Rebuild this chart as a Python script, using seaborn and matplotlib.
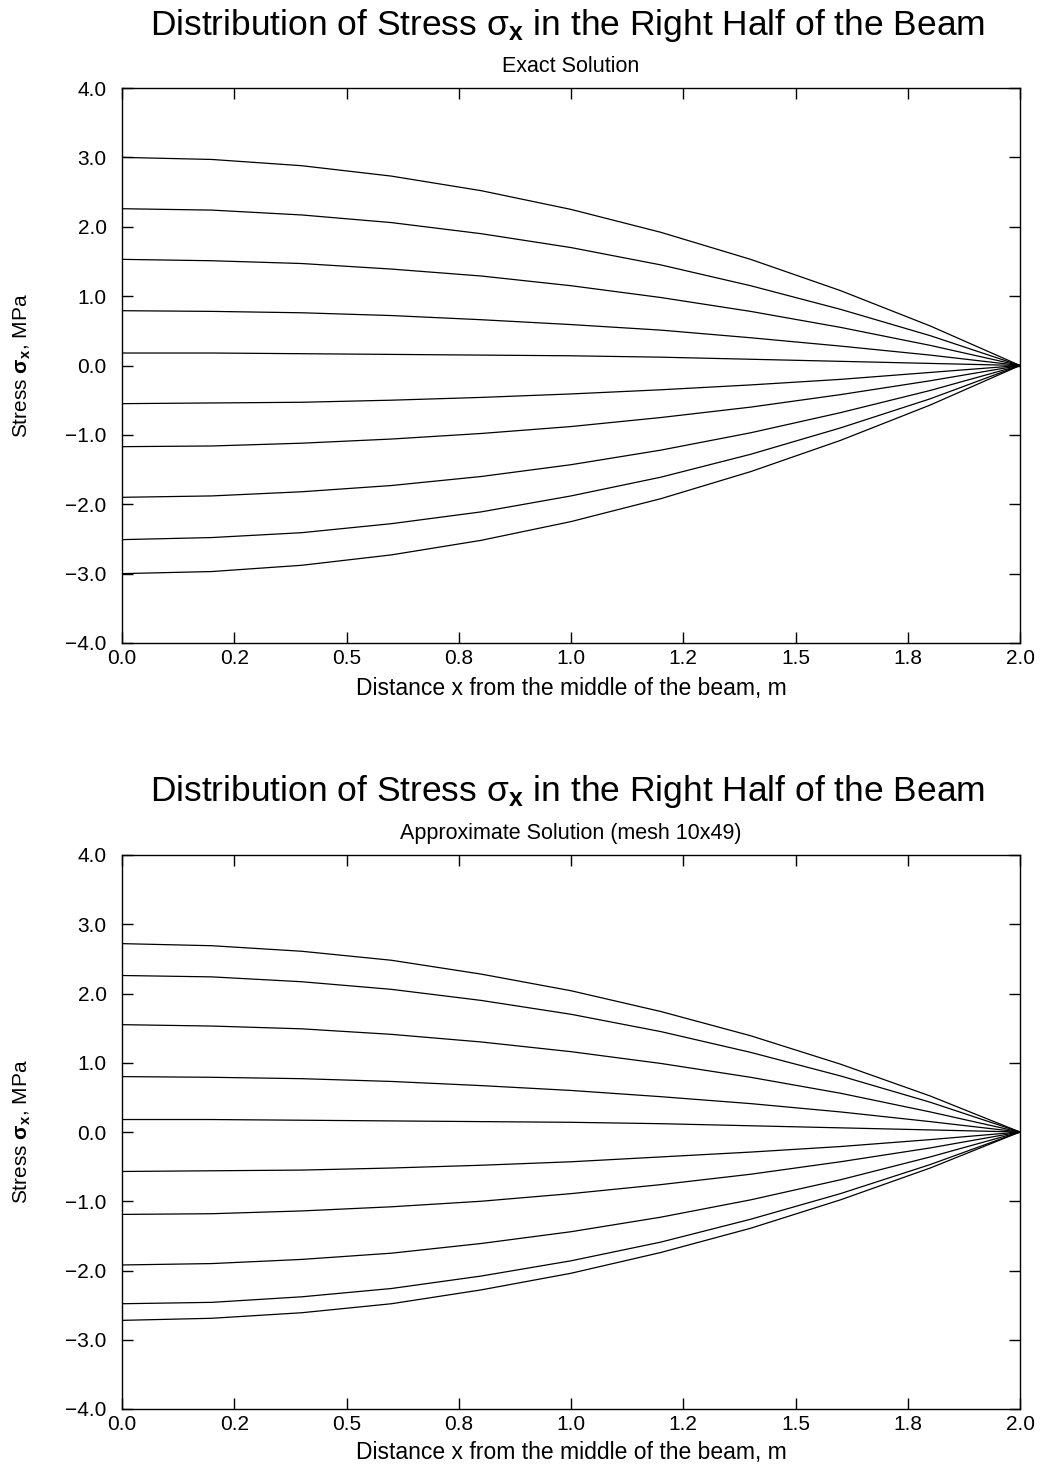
import matplotlib
matplotlib.use("Agg")
import matplotlib.pyplot as plt
from matplotlib.ticker import FuncFormatter, MultipleLocator
import seaborn as sns
import pandas as pd

# ---------------- data ----------------
x_nodes = [0.0, 0.2, 0.4, 0.6, 0.8, 1.0, 1.2, 1.4, 1.6, 1.8, 2.0]

exact_curves = [
    [3.00, 2.97, 2.88, 2.73, 2.52, 2.25, 1.92, 1.53, 1.08, 0.57, 0.0],
    [2.26, 2.24, 2.17, 2.06, 1.90, 1.70, 1.45, 1.15, 0.81, 0.43, 0.0],
    [1.53, 1.51, 1.47, 1.39, 1.29, 1.15, 0.98, 0.78, 0.55, 0.29, 0.0],
    [0.79, 0.78, 0.76, 0.72, 0.66, 0.59, 0.51, 0.40, 0.28, 0.15, 0.0],
    [0.18, 0.18, 0.17, 0.16, 0.15, 0.14, 0.12, 0.09, 0.06, 0.03, 0.0],
    [-0.55, -0.54, -0.53, -0.50, -0.46, -0.41, -0.35, -0.28, -0.20, -0.10, 0.0],
    [-1.17, -1.16, -1.12, -1.06, -0.98, -0.88, -0.75, -0.60, -0.42, -0.22, 0.0],
    [-1.90, -1.88, -1.82, -1.73, -1.60, -1.43, -1.22, -0.97, -0.68, -0.36, 0.0],
    [-2.51, -2.48, -2.41, -2.28, -2.11, -1.88, -1.61, -1.28, -0.90, -0.48, 0.0],
    [-3.00, -2.97, -2.88, -2.73, -2.52, -2.25, -1.92, -1.53, -1.08, -0.57, 0.0],
]

approx_curves = [
    [2.72, 2.69, 2.61, 2.48, 2.28, 2.04, 1.74, 1.39, 0.98, 0.52, 0.0],
    [2.26, 2.24, 2.17, 2.06, 1.90, 1.70, 1.45, 1.15, 0.81, 0.43, 0.0],
    [1.55, 1.53, 1.49, 1.41, 1.30, 1.16, 0.99, 0.79, 0.56, 0.29, 0.0],
    [0.80, 0.79, 0.77, 0.73, 0.67, 0.60, 0.51, 0.41, 0.29, 0.15, 0.0],
    [0.18, 0.18, 0.17, 0.16, 0.15, 0.14, 0.12, 0.09, 0.06, 0.03, 0.0],
    [-0.57, -0.56, -0.55, -0.52, -0.48, -0.43, -0.36, -0.29, -0.21, -0.11, 0.0],
    [-1.19, -1.18, -1.14, -1.08, -1.00, -0.89, -0.76, -0.61, -0.43, -0.23, 0.0],
    [-1.92, -1.90, -1.84, -1.75, -1.61, -1.44, -1.23, -0.98, -0.69, -0.36, 0.0],
    [-2.48, -2.46, -2.38, -2.26, -2.08, -1.86, -1.59, -1.26, -0.89, -0.47, 0.0],
    [-2.72, -2.69, -2.61, -2.48, -2.28, -2.04, -1.74, -1.39, -0.98, -0.52, 0.0],
]

main_title = r"Distribution of Stress σ$_{\mathbf{x}}$ in the Right Half of the Beam"
subtitles = ["Exact Solution", "Approximate Solution (mesh 10x49)"]
x_label = "Distance x from the middle of the beam, m"
y_label = r"Stress $\mathbf{σ_x}$, MPa"

# ---------------- style ----------------
sns.set_theme(style="white")
plt.rcParams["font.family"] = ["Liberation Sans", "DejaVu Sans"]
plt.rcParams["mathtext.fontset"] = "custom"
plt.rcParams["mathtext.rm"] = "Liberation Sans"
plt.rcParams["mathtext.bf"] = "Liberation Sans:bold"
plt.rcParams["mathtext.it"] = "Liberation Sans:italic"

W, H = 1042, 1465
fig = plt.figure(figsize=(W / 100, H / 100), dpi=100)

fmt = FuncFormatter(lambda v, pos: ("%.1f" % v).replace("-", "\u2212"))


def to_long(curves):
    rows = []
    for i, c in enumerate(curves):
        for xv, yv in zip(x_nodes, c):
            rows.append({"x": xv, "stress": yv, "curve": i})
    return pd.DataFrame(rows)


panels = [
    dict(curves=exact_curves, sub=subtitles[0], top=88, bottom=643, title_y=25, sub_y=67, xl_y=688),
    dict(curves=approx_curves, sub=subtitles[1], top=855, bottom=1409, title_y=792, sub_y=834, xl_y=1452),
]

left_px, right_px = 122, 1020
for p in panels:
    ax = fig.add_axes([left_px / W, 1 - p["bottom"] / H, (right_px - left_px) / W, (p["bottom"] - p["top"]) / H])
    df = to_long(p["curves"])
    sns.lineplot(data=df, x="x", y="stress", hue="curve",
                 palette=["black"] * len(p["curves"]), legend=False,
                 linewidth=0.9, ax=ax, estimator=None, sort=False)
    ax.set_xlim(0, 2.0)
    ax.set_ylim(-4.0, 4.0)
    ax.xaxis.set_major_locator(MultipleLocator(0.25))
    ax.yaxis.set_major_locator(MultipleLocator(1.0))
    ax.xaxis.set_major_formatter(fmt)
    ax.yaxis.set_major_formatter(fmt)
    ax.tick_params(direction="in", length=8, width=1, color="black",
                   top=True, right=True, bottom=True, left=True,
                   labelsize=15, labelcolor="black")
    ax.tick_params(axis="x", pad=4)
    ax.tick_params(axis="y", pad=11)
    for s in ax.spines.values():
        s.set_color("black")
        s.set_linewidth(1.0)
    ax.set_xlabel("")
    ax.set_ylabel(y_label, fontsize=15, color="black")
    ax.yaxis.set_label_coords((33 - left_px) / (right_px - left_px), 0.5)
    fig.text(571 / W, 1 - p["xl_y"] / H, x_label, ha="center", va="center", fontsize=16.5, color="black")
    fig.text(567 / W, 1 - p["title_y"] / H, main_title, ha="center", va="center", fontsize=25.5, color="black")
    fig.text(571 / W, 1 - p["sub_y"] / H, p["sub"], ha="center", va="center", fontsize=15.5, color="black")

fig.savefig("out.png", dpi=100, facecolor="white")
